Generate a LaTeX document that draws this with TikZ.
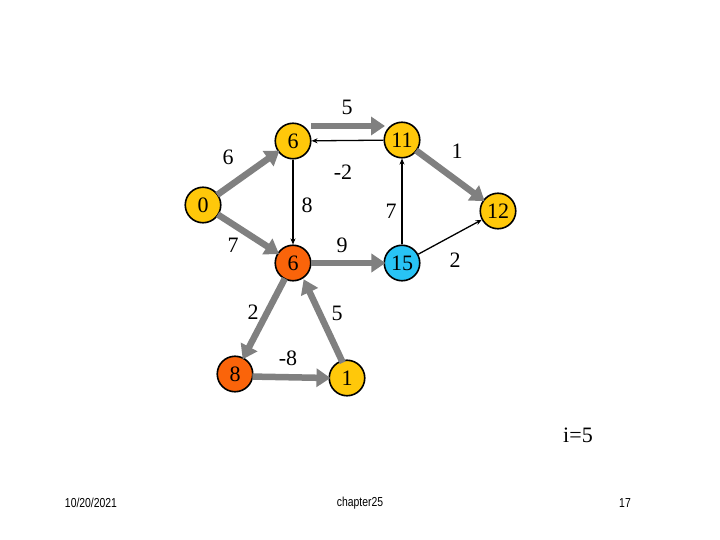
\documentclass[tikz,border=0pt]{standalone}
\usepackage{fontspec}
\setmainfont{Liberation Serif}
\newfontfamily\footfont[FakeStretch=0.8]{Liberation Sans}
\usetikzlibrary{arrows.meta,calc}
\definecolor{nyellow}{RGB}{255,200,10}
\definecolor{norange}{RGB}{250,100,10}
\definecolor{ncyan}{RGB}{40,195,245}
\definecolor{agray}{RGB}{128,128,128}
\tikzset{
  vert/.style={circle,draw=black,line width=1.6pt,minimum size=35.5pt,inner sep=0pt,font=\fontsize{22}{22}\selectfont},
  yv/.style={vert,fill=nyellow},
  ov/.style={vert,fill=norange},
  cv/.style={vert,fill=ncyan},
  garrow/.style={draw=agray,line width=6.5pt,-{Triangle[length=14pt,width=18pt]},shorten >=-2pt,shorten <=-1pt},
  tarrow/.style={draw=black,line width=1.3pt,-{Stealth[length=6pt,width=5pt]}},
  wlabel/.style={font=\fontsize{22}{22}\selectfont,inner sep=0pt},
  foot/.style={font=\footfont\fontsize{13}{13}\selectfont,inner sep=0pt}
}
\begin{document}
\begin{tikzpicture}[x=1pt,y=-1pt]
\useasboundingbox[fill=white] (0,0) rectangle (720,540);
% vertices
\node[yv] (n0) at (203,205) {0};
\node[yv] (n6a) at (293,141) {6};
\node[yv] (n11) at (402,140) {11};
\node[yv] (n12) at (498,211) {12};
\node[ov] (n6b) at (293,263) {6};
\node[cv] (n15) at (402,263) {15};
\node[ov] (n8) at (235,374) {8};
\node[yv] (n1) at (347,378) {1};
% edges
\draw[garrow] (n0) -- (n6a);
\draw[garrow] (n0) -- (n6b);
\draw[garrow] ($(n6a.center)+(19,-15)$) -- ($(n11.center)+(-19,-14)$);
\draw[tarrow] (n11) -- (n6a);
\draw[tarrow] (n6a) -- (n6b);
\draw[tarrow] (n15) -- (n11);
\draw[garrow] (n6b) -- (n15);
\draw[garrow] (n11) -- (n12);
\draw[tarrow] (n15) -- (n12);
\draw[garrow] (n6b) -- (n8);
\draw[garrow] (n8.-8) -- (n1.west);
\draw[garrow,shorten <=17pt,shorten >=18pt] ($(n1.center)+(3,0)$) -- ($(n6b.center)+(3,0)$);
% weights
\node[wlabel] (w5a) at (347,107) {5};
\node[wlabel] (w6) at (228,157) {6};
\node[wlabel] (wm2) at (343,172) {-2};
\node[wlabel] (w8) at (307,205) {8};
\node[wlabel] (w7r) at (391,211) {7};
\node[wlabel] (w1) at (457,151) {1};
\node[wlabel] (w7l) at (233,245) {7};
\node[wlabel] (w9) at (342,245) {9};
\node[wlabel] (w2r) at (455,260) {2};
\node[wlabel] (w2b) at (253,312) {2};
\node[wlabel] (w5b) at (337,313) {5};
\node[wlabel] (wm8) at (288,358) {-8};
\node[wlabel] (iter) at (578,435) {i=5};
% footer
\node[foot] (date) at (91,503) {10/20/2021};
\node[foot] (chap) at (360,503) {chapter25};
\node[foot] (page) at (625,503) {17};
\end{tikzpicture}
\end{document}
